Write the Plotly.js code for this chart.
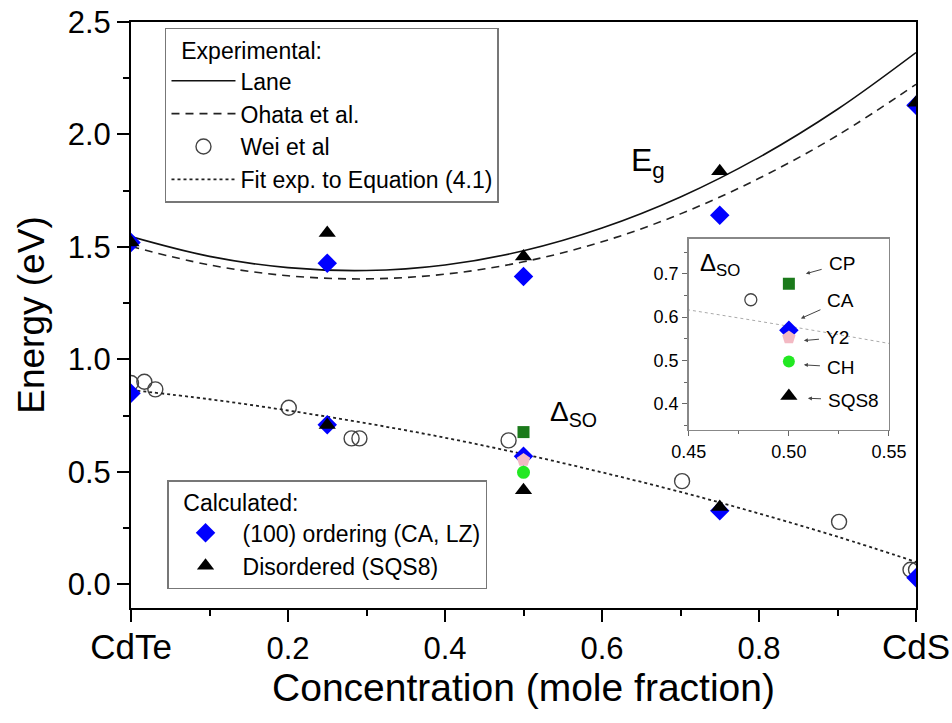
<!DOCTYPE html>
<html>
<head>
<meta charset="utf-8">
<script src="https://cdn.plot.ly/plotly-3.0.1.min.js"></script>
<style>html,body{margin:0;padding:0;background:#fff;}#chart{width:952px;height:723px;}</style>
</head>
<body>
<div id="chart"></div>
<script>
// ---- data ----
const curveX   = [0, 0.1, 0.2, 0.3, 0.4, 0.5, 0.6, 0.7, 0.8, 0.9, 1.0];
const laneY    = [1.546, 1.458, 1.408, 1.395, 1.420, 1.483, 1.584, 1.722, 1.898, 2.112, 2.364];
const ohataY   = [1.502, 1.420, 1.372, 1.358, 1.379, 1.434, 1.523, 1.647, 1.805, 1.996, 2.223];
const fitY     = [0.864, 0.823, 0.773, 0.716, 0.652, 0.579, 0.498, 0.411, 0.315, 0.212, 0.100];

const weiX     = [0, 0.017, 0.031, 0.201, 0.281, 0.291, 0.481, 0.702, 0.902, 0.993, 1.0];
const weiY     = [0.895, 0.901, 0.867, 0.785, 0.649, 0.649, 0.640, 0.459, 0.278, 0.065, 0.065];

const calcX        = [0, 0.25, 0.5, 0.75, 1.0];
const orderEgY     = [1.52, 1.428, 1.369, 1.641, 2.13];
const orderSoY     = [0.85, 0.71, 0.57, 0.327, 0.03];
const disEgY       = [1.52, 1.562, 1.458, 1.837, 2.141];
const disSoX       = [0.25, 0.5, 0.75];
const disSoY       = [0.708, 0.419, 0.344];

// inset (x = 0.5 structures)
const insetLabels  = ['CP', 'CA', 'Y2', 'CH', 'SQS8'];
const insetX       = [0.5, 0.5, 0.5, 0.5, 0.5];
const insetY       = [0.677, 0.57, 0.553, 0.498, 0.418];

const xTickVals = [0, 0.2, 0.4, 0.6, 0.8, 1.0];
const xTickText = ['CdTe', '0.2', '0.4', '0.6', '0.8', 'CdS'];

// ---- styles ----
const FONT = 'Arial, "Liberation Sans", Helvetica, sans-serif';
const blue = '#0000ff';
const cpGreen = '#1b7a1b';
const y2Pink = '#f3b9c3';
const chGreen = '#22e822';

const bigTick = t => (t === 'CdTe' || t === 'CdS') ? '<span style="font-size:35px">' + t + '</span>' : t;

const traces = [
  {x: curveX, y: laneY, mode: 'lines', name: 'Lane', legend: 'legend',
   line: {color: '#111', width: 1.6, shape: 'spline'}},
  {x: curveX, y: ohataY, mode: 'lines', name: 'Ohata et al.', legend: 'legend',
   line: {color: '#222', width: 1.6, shape: 'spline', dash: '8px,6px'}},
  {x: weiX, y: weiY, mode: 'markers', name: 'Wei et al', legend: 'legend',
   marker: {symbol: 'circle-open', size: 15, color: '#444', line: {width: 1.4, color: '#444'}}},
  {x: curveX, y: fitY, mode: 'lines', name: 'Fit exp. to Equation (4.1)', legend: 'legend',
   line: {color: '#222', width: 1.8, shape: 'spline', dash: 'dot'}},

  {x: calcX.concat(calcX), y: orderEgY.concat(orderSoY), mode: 'markers',
   name: '(100) ordering (CA, LZ)', legend: 'legend2',
   marker: {symbol: 'diamond', size: 15, color: blue}},
  {x: [insetX[2]], y: [insetY[2]], mode: 'markers', showlegend: false,
   marker: {symbol: 'pentagon', size: 14, color: y2Pink}},
  {x: [insetX[0]], y: [insetY[0]], mode: 'markers', showlegend: false,
   marker: {symbol: 'square', size: 12, color: cpGreen}},
  {x: [insetX[3]], y: [insetY[3]], mode: 'markers', showlegend: false,
   marker: {symbol: 'circle', size: 13, color: chGreen}},
  {x: calcX.concat(disSoX), y: disEgY.concat(disSoY), mode: 'markers',
   name: 'Disordered (SQS8)', legend: 'legend2',
   marker: {symbol: 'triangle-up', size: 15, color: '#000'}},

  // inset
  {x: curveX, y: fitY, xaxis: 'x2', yaxis: 'y2', mode: 'lines', showlegend: false,
   line: {color: '#aaa', width: 1, shape: 'spline', dash: 'dot'}},
  {x: weiX, y: weiY, xaxis: 'x2', yaxis: 'y2', mode: 'markers', showlegend: false,
   marker: {symbol: 'circle-open', size: 12, color: '#444', line: {width: 1.3, color: '#444'}}},
  {x: [insetX[0]], y: [insetY[0]], xaxis: 'x2', yaxis: 'y2', mode: 'markers', showlegend: false,
   marker: {symbol: 'square', size: 12, color: cpGreen}},
  {x: [insetX[1]], y: [insetY[1]], xaxis: 'x2', yaxis: 'y2', mode: 'markers', showlegend: false,
   marker: {symbol: 'diamond', size: 15, color: blue}},
  {x: [insetX[2]], y: [insetY[2]], xaxis: 'x2', yaxis: 'y2', mode: 'markers', showlegend: false,
   marker: {symbol: 'pentagon', size: 14, color: y2Pink}},
  {x: [insetX[3]], y: [insetY[3]], xaxis: 'x2', yaxis: 'y2', mode: 'markers', showlegend: false,
   marker: {symbol: 'circle', size: 12, color: chGreen}},
  {x: [insetX[4]], y: [insetY[4]], xaxis: 'x2', yaxis: 'y2', mode: 'markers', showlegend: false,
   marker: {symbol: 'triangle-up', size: 15, color: '#000'}}
];

// inset label offsets (text position relative to the marker, in inset data units)
const labelDX = [0.0265, 0.026, 0.0245, 0.026, 0.0325];
const labelDY = [0.046, 0.068, 0.0, -0.013, -0.009];
const headDX  = [0.0085, 0.006, 0.0075, 0.0075, 0.0095];
const headDY  = [0.023, 0.027, -0.007, -0.008, -0.005];

const annotations = [
  {xref: 'x', yref: 'y', x: 0.635, y: 1.875, xanchor: 'left', yanchor: 'middle', showarrow: false,
   text: 'E<sub>g</sub>', font: {family: FONT, size: 32, color: '#000'}},
  {xref: 'x', yref: 'y', x: 0.531, y: 0.76, xanchor: 'left', yanchor: 'middle', showarrow: false,
   text: 'Δ<sub>SO</sub>', font: {family: FONT, size: 28, color: '#000'}},
  {xref: 'x2', yref: 'y2', x: 0.4545, y: 0.722, xanchor: 'left', yanchor: 'middle', showarrow: false,
   text: 'Δ<sub>SO</sub>', font: {family: FONT, size: 24, color: '#000'}}
];
insetLabels.forEach((lab, i) => {
  annotations.push({
    xref: 'x2', yref: 'y2', axref: 'x2', ayref: 'y2',
    x: insetX[i] + headDX[i], y: insetY[i] + headDY[i],
    ax: insetX[i] + labelDX[i], ay: insetY[i] + labelDY[i],
    text: lab, showarrow: true, arrowhead: 2, arrowsize: 0.8, arrowwidth: 1,
    arrowcolor: '#444', startstandoff: 6,
    font: {family: FONT, size: 19, color: '#000'}
  });
});

const layout = {
  width: 952, height: 723,
  margin: {l: 131, r: 36, t: 22, b: 115},
  paper_bgcolor: '#fff', plot_bgcolor: '#fff',
  font: {family: FONT, color: '#000'},
  showlegend: true,
  xaxis: {
    range: [0, 1], domain: [0, 1],
    tickvals: xTickVals, ticktext: xTickText.map(bigTick),
    ticks: 'outside', ticklen: 12, tickwidth: 2, tickcolor: '#000',
    minor: {dtick: 0.1, ticks: 'outside', ticklen: 6, tickwidth: 2, tickcolor: '#000'},
    showline: true, linewidth: 2, linecolor: '#000', mirror: true,
    showgrid: false, zeroline: false,
    tickfont: {family: FONT, size: 31, color: '#000'},
    title: {text: 'Concentration (mole fraction)', font: {family: FONT, size: 39, color: '#000'}, standoff: 8}
  },
  yaxis: {
    range: [-0.105, 2.5], domain: [0, 1],
    tickvals: [0, 0.5, 1.0, 1.5, 2.0, 2.5], tickformat: '.1f',
    ticks: 'outside', ticklen: 12, tickwidth: 2, tickcolor: '#000',
    minor: {dtick: 0.25, ticks: 'outside', ticklen: 6, tickwidth: 2, tickcolor: '#000'},
    showline: true, linewidth: 2, linecolor: '#000', mirror: true,
    showgrid: false, zeroline: false,
    tickfont: {family: FONT, size: 31, color: '#000'},
    title: {text: 'Energy (eV)\u00a0\u00a0\u00a0\u00a0\u00a0\u00a0', font: {family: FONT, size: 37, color: '#000'}, standoff: 12}
  },
  xaxis2: {
    anchor: 'y2', domain: [0.7105, 0.9656], range: [0.45, 0.55],
    tickvals: [0.45, 0.5, 0.55], tickformat: '.2f',
    ticks: 'outside', ticklen: 5, tickwidth: 1, tickcolor: '#666',
    minor: {dtick: 0.025, ticks: 'outside', ticklen: 3, tickwidth: 1, tickcolor: '#666'},
    showline: true, linewidth: 1.5, linecolor: '#888', mirror: true,
    showgrid: false, zeroline: false,
    tickfont: {family: FONT, size: 18, color: '#000'}
  },
  yaxis2: {
    anchor: 'x2', domain: [0.3038, 0.6297], range: [0.34, 0.78],
    tickvals: [0.4, 0.5, 0.6, 0.7], tickformat: '.1f',
    ticks: 'outside', ticklen: 5, tickwidth: 1, tickcolor: '#666',
    minor: {dtick: 0.05, ticks: 'outside', ticklen: 3, tickwidth: 1, tickcolor: '#666'},
    showline: true, linewidth: 1.5, linecolor: '#888', mirror: true,
    showgrid: false, zeroline: false,
    tickfont: {family: FONT, size: 18, color: '#000'}
  },
  legend: {
    x: 0.0433, y: 0.99, xanchor: 'left', yanchor: 'top',
    bgcolor: '#fff', bordercolor: '#777', borderwidth: 1.5,
    font: {family: FONT, size: 23, color: '#000'},
    title: {text: '\u00a0\u00a0Experimental:', side: 'top', font: {family: FONT, size: 23, color: '#000'}},
    itemwidth: 64, tracegroupgap: 0, traceorder: 'normal'
  },
  legend2: {
    x: 0.0459, y: 0.0324, xanchor: 'left', yanchor: 'bottom',
    bgcolor: '#fff', bordercolor: '#777', borderwidth: 1.5,
    font: {family: FONT, size: 23, color: '#000'},
    title: {text: '\u00a0\u00a0Calculated:', side: 'top', font: {family: FONT, size: 23, color: '#000'}},
    itemwidth: 64, tracegroupgap: 0, traceorder: 'normal'
  },
  annotations: annotations
};

Plotly.newPlot('chart', traces, layout, {displayModeBar: false, staticPlot: true});
</script>
</body>
</html>
